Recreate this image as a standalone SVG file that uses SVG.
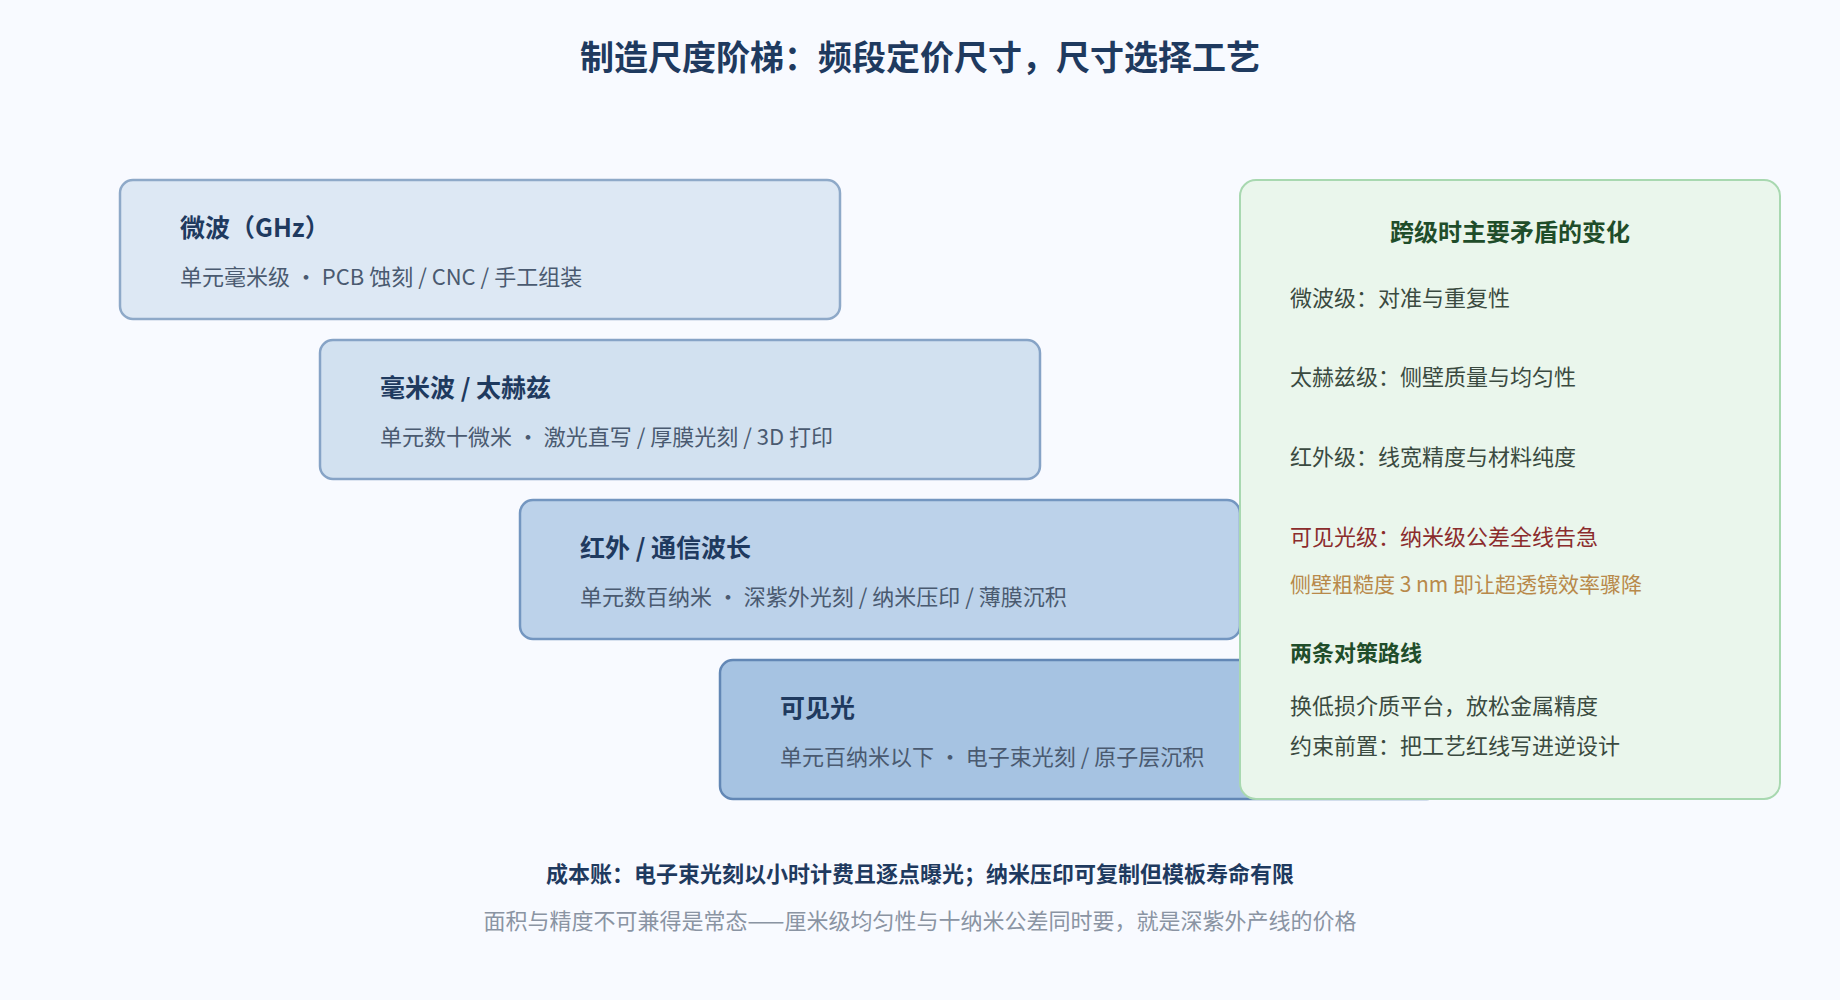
<svg xmlns="http://www.w3.org/2000/svg" width="1840" height="1000" viewBox="0 0 1840 1000">
<style>
text{font-family:"Noto Sans CJK SC","Noto Sans",sans-serif;dominant-baseline:central}
.t{font-size:25px;font-weight:bold;fill:#1f3a5f}
.s{font-size:22px;fill:#4a5a70}
.r{font-size:22px;fill:#3a4a40}
.box{stroke-width:2.5}
</style>
<rect width="1840" height="1000" fill="#f8faff"/>
<text x="920" y="55" text-anchor="middle" style="font-size:34px;font-weight:bold;fill:#1f3a5f">制造尺度阶梯：频段定价尺寸，尺寸选择工艺</text>
<g id="n1"><rect class="box" x="120" y="180" width="720" height="139" rx="13" fill="#dde8f4" stroke="#8ea9c8"/><text class="t" x="180" y="226">微波（GHz）</text><text class="s" x="180" y="275">单元毫米级 · PCB 蚀刻 / CNC / 手工组装</text></g>
<g id="n2"><rect class="box" x="320" y="340" width="720" height="139" rx="13" fill="#d2e1f0" stroke="#86a3c6"/><text class="t" x="380" y="386">毫米波 / 太赫兹</text><text class="s" x="380" y="435">单元数十微米 · 激光直写 / 厚膜光刻 / 3D 打印</text></g>
<g id="n3"><rect class="box" x="520" y="500" width="720" height="139" rx="13" fill="#bcd2ea" stroke="#7396c0"/><text class="t" x="580" y="546">红外 / 通信波长</text><text class="s" x="580" y="595">单元数百纳米 · 深紫外光刻 / 纳米压印 / 薄膜沉积</text></g>
<g id="n4"><rect class="box" x="720" y="660" width="720" height="139" rx="13" fill="#a6c3e2" stroke="#6287b5"/><text class="t" x="780" y="706">可见光</text><text class="s" x="780" y="755">单元百纳米以下 · 电子束光刻 / 原子层沉积</text></g>
<g id="panel"><rect x="1240" y="180" width="540" height="619" rx="16" fill="#eaf6ec" stroke="#a8d8b0" stroke-width="2"/>
<text x="1510" y="230" text-anchor="middle" style="font-size:24px;font-weight:bold;fill:#1f4d2a">跨级时主要矛盾的变化</text>
<text class="r" x="1290" y="296">微波级：对准与重复性</text>
<text class="r" x="1290" y="375">太赫兹级：侧壁质量与均匀性</text>
<text class="r" x="1290" y="455">红外级：线宽精度与材料纯度</text>
<text class="r" x="1290" y="535" style="fill:#8b2c2c">可见光级：纳米级公差全线告急</text>
<text x="1290" y="583" style="font-size:21px;fill:#b8894a">侧壁粗糙度 3 nm 即让超透镜效率骤降</text>
<text x="1290" y="651" style="font-size:22px;font-weight:bold;fill:#1f4d2a">两条对策路线</text>
<text class="r" x="1290" y="704">换低损介质平台，放松金属精度</text>
<text class="r" x="1290" y="744">约束前置：把工艺红线写进逆设计</text></g>
<text x="920" y="872" text-anchor="middle" style="font-size:22px;font-weight:bold;fill:#1f3a5f">成本账：电子束光刻以小时计费且逐点曝光；纳米压印可复制但模板寿命有限</text>
<text x="920" y="919" text-anchor="middle" style="font-size:22px;fill:#8a94a3">面积与精度不可兼得是常态——厘米级均匀性与十纳米公差同时要，就是深紫外产线的价格</text>
</svg>
